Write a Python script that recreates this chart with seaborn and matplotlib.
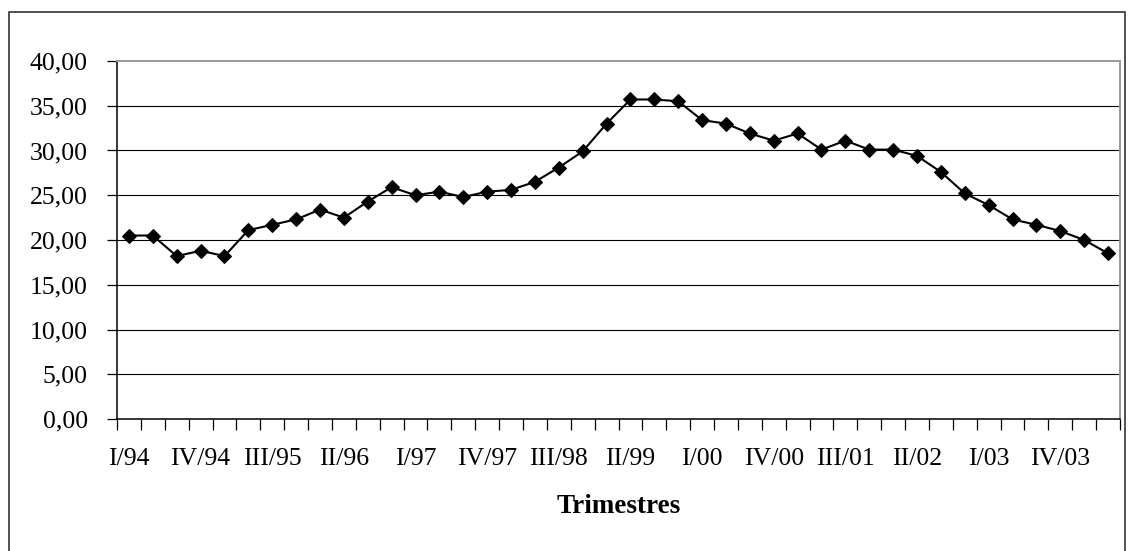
import matplotlib
matplotlib.use("Agg")
import matplotlib.pyplot as plt
import matplotlib.patches as mpatches
from matplotlib.ticker import FixedLocator, FuncFormatter
import seaborn as sns
import pandas as pd

# Quarterly series, I/94 .. II/04
years = ["94", "95", "96", "97", "98", "99", "00", "01", "02", "03", "04"]
quarters = ["I", "II", "III", "IV"]
periods = [f"{q}/{y}" for y in years for q in quarters][:42]

values = [20.5, 20.5, 18.2, 18.8, 18.2, 21.1, 21.7, 22.3, 23.4, 22.5,
          24.3, 25.9, 25.0, 25.4, 24.8, 25.4, 25.6, 26.5, 28.1, 29.9,
          33.0, 35.7, 35.7, 35.5, 33.4, 33.0, 31.9, 31.1, 31.9, 30.1,
          31.1, 30.1, 30.1, 29.4, 27.6, 25.2, 23.9, 22.3, 21.7, 21.0,
          20.0, 18.5]

y_ticks = [0, 5, 10, 15, 20, 25, 30, 35, 40]
label_step = 3
x_title = "Trimestres"

df = pd.DataFrame({"pos": range(len(values)), "periodo": periods, "valor": values})

sns.set_theme(style="white")
plt.rcParams["font.family"] = ["Liberation Serif", "DejaVu Serif"]

fig = plt.figure(figsize=(11.30, 5.51), dpi=100)
W, H = 1130, 551
ax = fig.add_axes([117 / W, 1 - 419 / H, (1120 - 117) / W, (419 - 61) / H])

# Outer chart frame
fig.patches.append(mpatches.Rectangle((9 / W, -0.05), (1125 - 9) / W, 1 - 12 / H + 0.05,
                                      transform=fig.transFigure, fill=False,
                                      edgecolor="#222222", linewidth=1.1))

sns.lineplot(data=df, x="pos", y="valor", ax=ax, color="black", linewidth=1.5,
             marker="D", markersize=7, markeredgecolor="black",
             markerfacecolor="black", zorder=3)

ax.set_xlim(-0.5, len(periods) - 0.5)
ax.set_ylim(0, 40)

# Horizontal gridlines
for v in y_ticks[1:-1]:
    ax.axhline(v, color="black", linewidth=0.8, zorder=1)

ax.yaxis.set_major_locator(FixedLocator(y_ticks))
ax.yaxis.set_major_formatter(FuncFormatter(lambda v, _: f"{v:.2f}".replace(".", ",")))
ax.tick_params(axis="y", which="major", direction="out", length=7, width=0.9,
               color="black", labelsize=18.5, pad=14, left=True)

# Category boundaries as tick marks, labels at every third quarter
ax.xaxis.set_major_locator(FixedLocator([i - 0.5 for i in range(len(periods) + 1)]))
ax.xaxis.set_major_formatter(FuncFormatter(lambda v, _: ""))
label_pos = list(range(0, len(periods), label_step))
ax.xaxis.set_minor_locator(FixedLocator(label_pos))
ax.set_xticks(label_pos, [periods[i] for i in label_pos], minor=True)
ax.tick_params(axis="x", which="major", direction="out", length=8, width=0.9,
               color="black", bottom=True)
ax.tick_params(axis="x", which="minor", length=0, labelsize=18.5, pad=21)

for lbl in ax.get_xticklabels(minor=True) + ax.get_yticklabels():
    lbl.set_color("black")

ax.set_xlabel(x_title, fontsize=19.5, fontweight="bold", labelpad=17, color="black")
ax.set_ylabel("")

for side in ["left", "bottom"]:
    ax.spines[side].set_color("black")
    ax.spines[side].set_linewidth(1.1)
for side in ["top", "right"]:
    ax.spines[side].set_color("#999999")
    ax.spines[side].set_linewidth(1.4)
    ax.spines[side].set_visible(True)

fig.savefig("out.png", dpi=100, facecolor="white")
